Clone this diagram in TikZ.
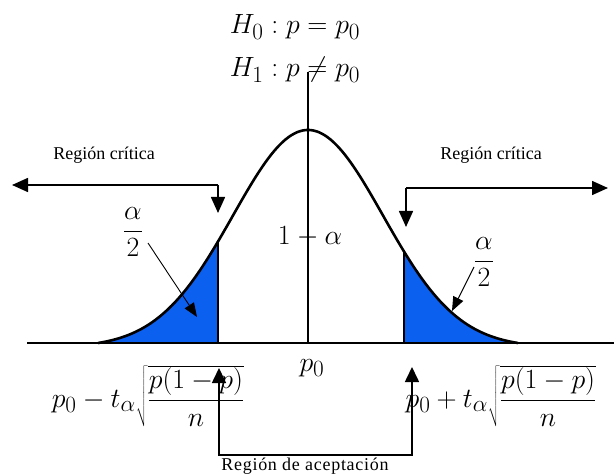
\documentclass[tikz,border=0pt]{standalone}
\usepackage{fontspec}
\setmainfont{Liberation Serif}
\usetikzlibrary{arrows.meta}
\definecolor{shadeblue}{RGB}{12,96,240}
\tikzset{
  lbl/.style={font=\fontsize{18}{20}\selectfont, inner sep=0pt},
  mth/.style={font=\fontsize{24.88}{30}\selectfont, inner sep=0pt, scale=1.12, transform shape},
  bigarrow/.style={line width=1.6pt, -{Triangle[length=16pt,width=14pt]}},
  bothbig/.style={line width=1.6pt, {Triangle[length=15pt,width=14pt]}-{Triangle[length=15pt,width=14pt]}},
  thinarrow/.style={line width=0.9pt, -{Triangle[length=14pt,width=11pt]}},
  axisline/.style={line width=2pt},
  curveline/.style={line width=2.6pt, line join=round},
}
\begin{document}
\begin{tikzpicture}[x=1pt,y=-1pt,
  declare function={gy(\t)=343-213*(exp(-0.5*((\t-308)/75)^2)-0.01984)/0.98016;}]
\useasboundingbox (0,0) rectangle (614,476);
% shaded tails
\fill[shadeblue] plot[domain=98:218,samples=80] (\x,{gy(\x)}) -- (218,343) -- cycle;
\fill[shadeblue] (404,343) -- plot[domain=404:518,samples=80] (\x,{gy(\x)}) -- cycle;
% coordinates
\coordinate (lbase) at (218,343);
\coordinate (ltop) at (218,{gy(218)});
\coordinate (rbase) at (404,343);
\coordinate (rtop) at (404,{gy(404)});
\coordinate (bl) at (27,343);
\coordinate (br) at (614,343);
\coordinate (axtop) at (308,72);
\coordinate (axbot) at (308,343);
% texts
\node[mth] (h0) at (295,27) {$H_0 : p = p_0$};
\node[mth] (h1) at (295,70) {$H_1 : p \neq p_0$};
\node[lbl] (rcl) at (104,155) {Región crítica};
\node[lbl] (rcr) at (491,155) {Región crítica};
\node[mth] (al) at (133,232) {$\displaystyle\frac{\alpha}{2}$};
\node[mth] (ar) at (484,262) {$\displaystyle\frac{\alpha}{2}$};
\node[mth] (oma) at (310,237) {$1-\alpha$};
\node[mth] (p0) at (312,368) {$p_0$};
\node[mth] (fl) at (148,396) {$p_0 - t_\alpha\sqrt{\displaystyle\frac{p(1-p)}{n}}$};
\node[mth] (fr) at (501,396) {$p_0 + t_\alpha\sqrt{\displaystyle\frac{p(1-p)}{n}}$};
\node[lbl] (ra) at (305,466) {\addfontfeature{LetterSpace=4}Región de aceptación};
% lines
\draw[axisline] (lbase) -- (ltop);
\draw[axisline] (rbase) -- (rtop);
\draw[curveline] plot[domain=98:518,samples=200] (\x,{gy(\x)});
\draw[axisline] (bl) -- (br);
\draw[axisline] (axtop) -- (axbot);
% critical region arrows
\coordinate (lc) at (218,185);
\coordinate (ltip) at (12,185);
\coordinate (ldown) at (218,213);
\draw[bigarrow] (lc) -- (ltip);
\draw[bigarrow] (lc) -- (ldown);
\coordinate (rc) at (406,188);
\coordinate (rtip) at (608,188);
\coordinate (rdown) at (406,227);
\draw[bigarrow] (rc) -- (rtip);
\draw[bigarrow] (rc) -- (rdown);
% alpha/2 pointers
\coordinate (als) at (148,243);
\coordinate (alt) at (197,317);
\draw[thinarrow] (als) -- (alt);
\coordinate (ars) at (474,267);
\coordinate (art) at (452,311);
\draw[thinarrow] (ars) -- (art);
% acceptance region
\coordinate (aul) at (219,368);
\coordinate (abl) at (219,455);
\coordinate (abr) at (412,455);
\coordinate (aur) at (412,367);
\draw[bothbig] (aul) -- (abl) -- (abr) -- (aur);
\end{tikzpicture}
\end{document}
